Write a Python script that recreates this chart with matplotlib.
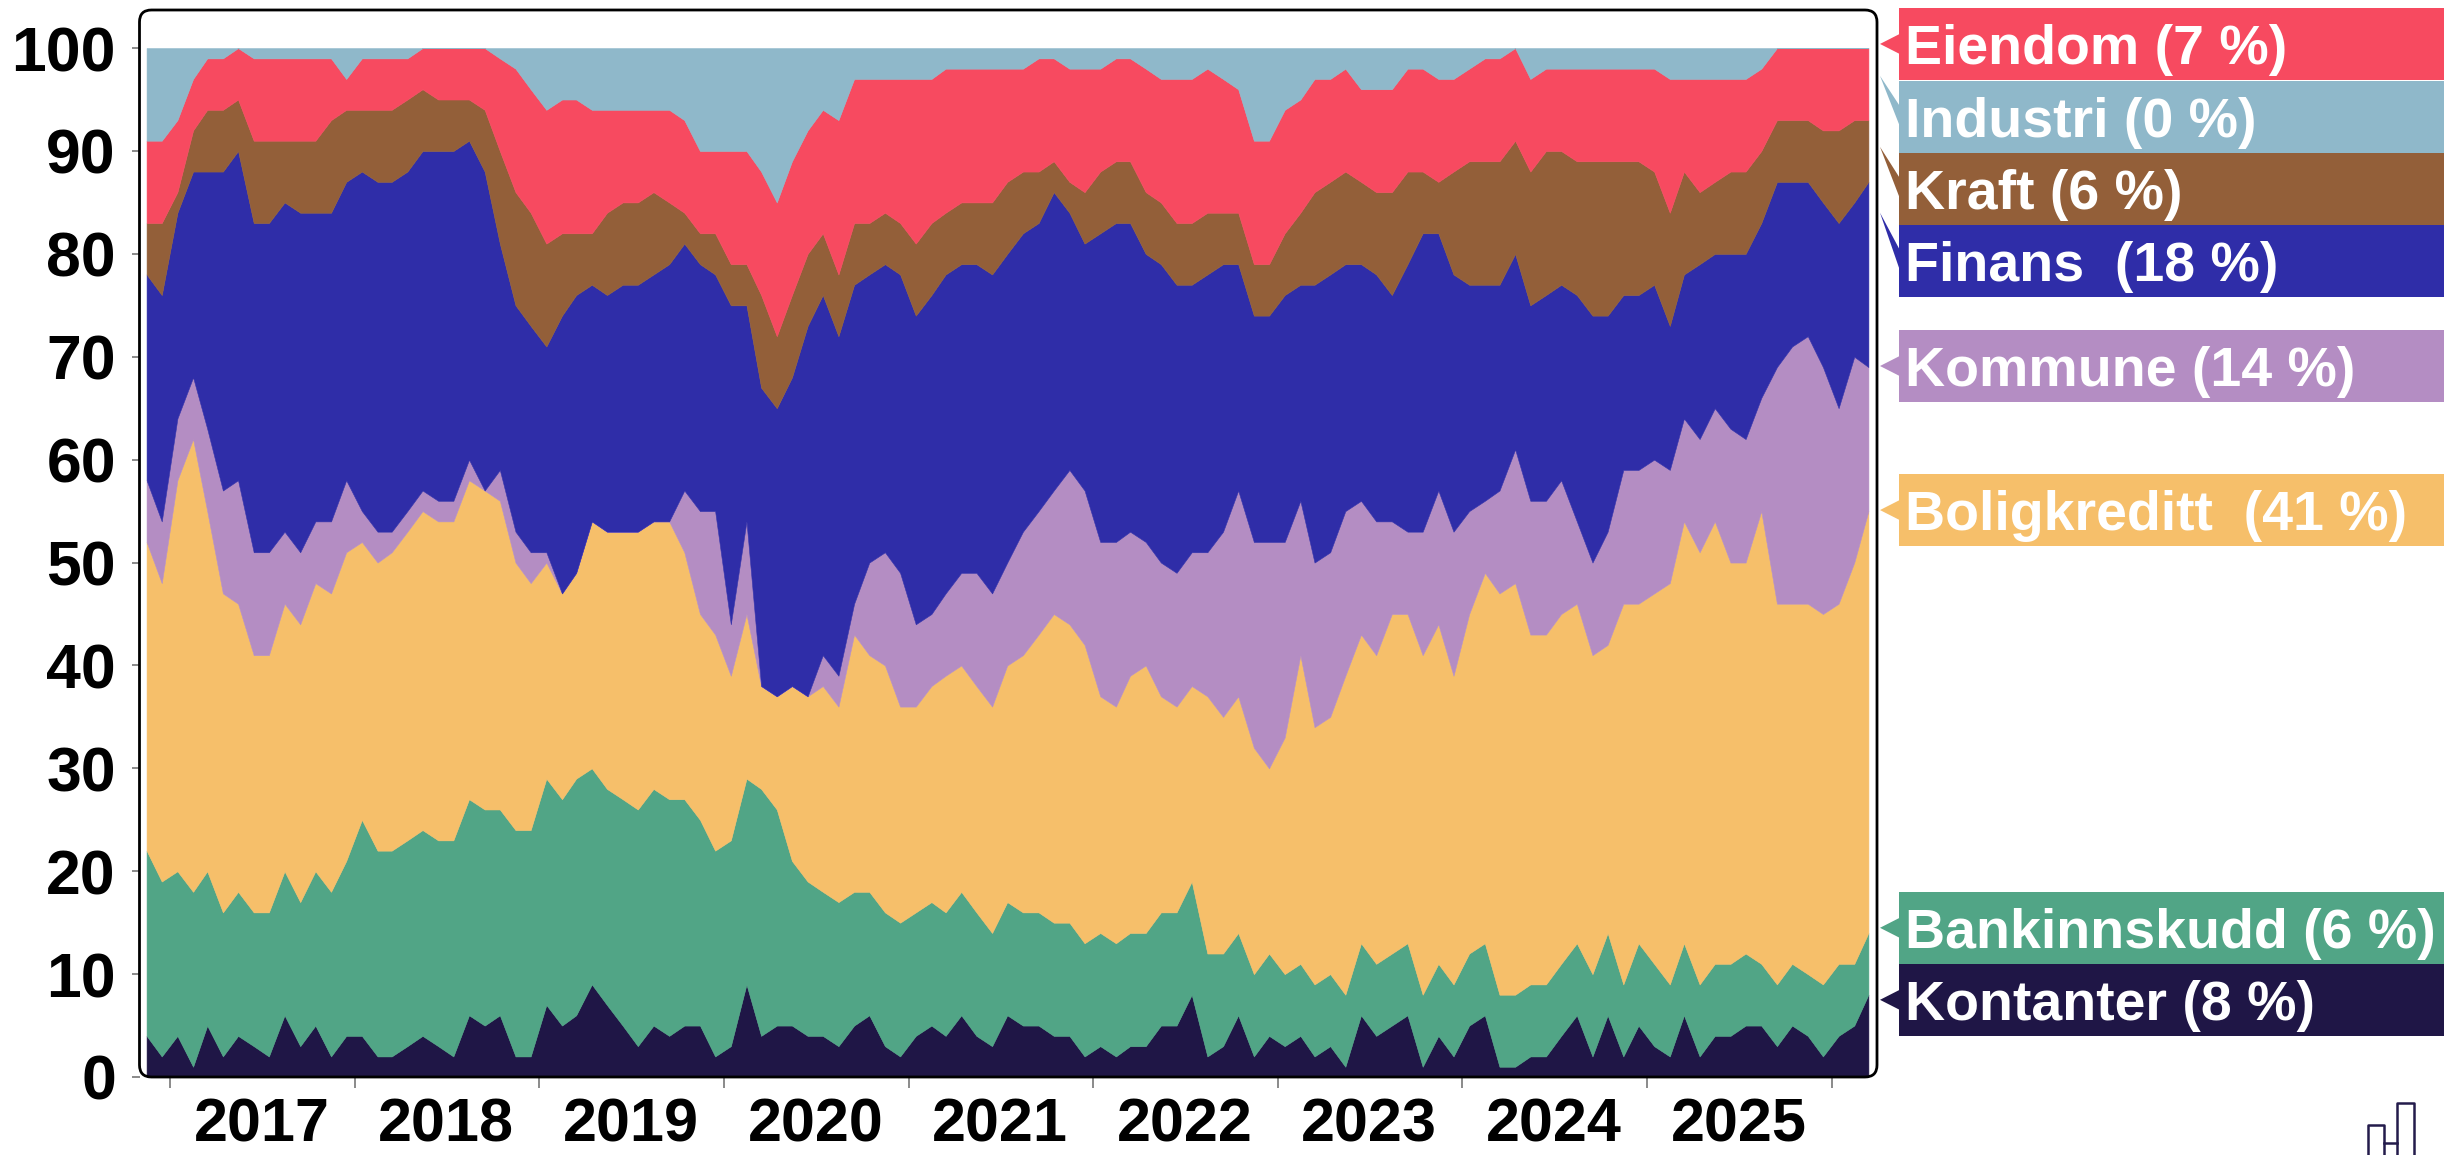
import matplotlib
matplotlib.use('Agg')
import matplotlib.pyplot as plt
import matplotlib.dates as mdates
import matplotlib.transforms as mtransforms
from matplotlib.patches import FancyBboxPatch, Rectangle, Polygon
from matplotlib.ticker import NullFormatter
import pandas as pd

plt.rcParams['font.family'] = ['Liberation Sans', 'DejaVu Sans']
plt.rcParams['font.weight'] = 'bold'

# Monthly observations (mid-month), Nov 2016 - Mar 2026, shares in percent
dates = pd.date_range('2016-11-01', periods=113, freq='MS') + pd.Timedelta(days=14)

kontanter = [4, 2, 4, 1, 5, 2, 4, 3, 2, 6, 3, 5, 2, 4, 4, 2, 2, 3, 4, 3, 2, 6, 5, 6, 2, 2,
             7, 5, 6, 9, 7, 5, 3, 5, 4, 5, 5, 2, 3, 9, 4, 5, 5, 4, 4, 3, 5, 6, 3, 2,
             4, 5, 4, 6, 4, 3, 6, 5, 5, 4, 4, 2, 3, 2, 3, 3, 5, 5, 8, 2, 3, 6, 2, 4, 3, 4,
             2, 3, 1, 6, 4, 5, 6, 1, 4, 2, 5, 6, 1, 1, 2, 2, 4, 6, 2, 6, 2, 5, 3, 2, 6, 2,
             4, 4, 5, 5, 3, 5, 4, 2, 4, 5, 8]
bankinnskudd = [18, 17, 16, 17, 15, 14, 14, 13, 14, 14, 14, 15, 16, 17, 21, 20, 20, 20, 20, 20, 21, 21, 21, 20, 22, 22,
                22, 22, 23, 21, 21, 22, 23, 23, 23, 22, 20, 20, 20, 20, 24, 21, 16, 15, 14, 14, 13, 12, 13, 13,
                12, 12, 12, 12, 12, 11, 11, 11, 11, 11, 11, 11, 11, 11, 11, 11, 11, 11, 11, 10, 9, 8, 8, 8, 7, 7,
                7, 7, 7, 7, 7, 7, 7, 7, 7, 7, 7, 7, 7, 7, 7, 7, 7, 7, 8, 8, 7, 8, 8, 7, 7, 7,
                7, 7, 7, 6, 6, 6, 6, 7, 7, 6, 6]
boligkreditt = [30, 29, 38, 44, 35, 31, 28, 25, 25, 26, 27, 28, 29, 30, 27, 28, 29, 30, 31, 31, 31, 31, 31, 30, 26, 24,
                21, 20, 20, 24, 25, 26, 27, 26, 27, 24, 20, 21, 16, 16, 10, 11, 17, 18, 20, 19, 25, 23, 24, 21,
                20, 21, 23, 22, 22, 22, 23, 25, 27, 30, 29, 29, 23, 23, 25, 26, 21, 20, 19, 25, 23, 23, 22, 18, 23, 30,
                25, 25, 31, 30, 30, 33, 32, 33, 33, 30, 33, 36, 39, 40, 34, 34, 34, 33, 31, 28, 37, 33, 36, 39, 41, 42,
                43, 39, 38, 44, 37, 35, 36, 36, 35, 39, 41]
kommune = [6, 6, 6, 6, 8, 10, 12, 10, 10, 7, 7, 6, 7, 7, 3, 3, 2, 2, 2, 2, 2, 2, 0, 3, 3, 3,
           1, 0, 0, 0, 0, 0, 0, 0, 0, 6, 10, 12, 5, 9, 0, 0, 0, 0, 3, 3, 3, 9, 11, 13,
           8, 7, 8, 9, 11, 11, 10, 12, 12, 12, 15, 15, 15, 16, 14, 12, 13, 13, 13, 14, 18, 20, 20, 22, 19, 15,
           16, 16, 16, 13, 13, 9, 8, 12, 13, 14, 10, 7, 10, 13, 13, 13, 13, 8, 9, 11, 13, 13, 13, 11, 10, 11,
           11, 13, 12, 11, 23, 25, 26, 24, 19, 20, 14]
finans = [20, 22, 20, 20, 25, 31, 32, 32, 32, 32, 33, 30, 30, 29, 33, 34, 34, 33, 33, 34, 34, 31, 31, 22, 22, 22,
          20, 27, 27, 23, 23, 24, 24, 24, 25, 24, 24, 23, 31, 21, 29, 28, 30, 36, 35, 33, 31, 28, 28, 29,
          30, 31, 31, 30, 30, 31, 30, 29, 28, 29, 25, 24, 30, 31, 30, 28, 29, 28, 26, 27, 26, 22, 22, 22, 24, 21,
          27, 27, 24, 23, 24, 22, 26, 29, 25, 25, 22, 21, 20, 19, 19, 20, 19, 22, 24, 21, 17, 17, 17, 14, 14, 17,
          15, 17, 18, 17, 18, 16, 15, 16, 18, 15, 18]
kraft = [5, 7, 2, 4, 6, 6, 5, 8, 8, 6, 7, 7, 9, 7, 6, 7, 7, 7, 6, 5, 5, 4, 6, 9, 11, 11,
         10, 8, 6, 5, 8, 8, 8, 8, 6, 3, 3, 4, 4, 4, 9, 7, 8, 7, 6, 6, 6, 5, 5, 5,
         7, 7, 6, 6, 6, 7, 7, 6, 5, 3, 3, 5, 6, 6, 6, 6, 6, 6, 6, 6, 5, 5, 5, 5, 6, 7,
         9, 9, 9, 8, 8, 10, 9, 6, 5, 10, 12, 12, 12, 11, 13, 14, 13, 13, 15, 15, 13, 13, 11, 11, 10, 7,
         7, 8, 8, 7, 6, 6, 6, 7, 9, 8, 6]
eiendom = [8, 8, 7, 5, 5, 5, 5, 8, 8, 8, 8, 8, 6, 3, 5, 5, 5, 4, 4, 5, 5, 5, 6, 9, 12, 12,
           13, 13, 13, 12, 10, 9, 9, 8, 9, 9, 8, 8, 11, 11, 12, 13, 13, 12, 12, 15, 14, 14, 13, 14,
           16, 14, 14, 13, 13, 13, 11, 10, 11, 10, 11, 12, 10, 10, 10, 12, 12, 14, 14, 14, 13, 12, 12, 12, 12, 11,
           11, 10, 10, 9, 10, 10, 10, 10, 10, 9, 9, 10, 10, 9, 9, 8, 8, 9, 9, 9, 9, 9, 10, 13, 9, 11,
           10, 9, 9, 8, 7, 7, 7, 8, 8, 7, 7]
industri = [9, 9, 7, 3, 1, 1, 0, 1, 1, 1, 1, 1, 1, 3, 1, 1, 1, 1, 0, 0, 0, 0, 0, 1, 2, 4,
            6, 5, 5, 6, 6, 6, 6, 6, 6, 7, 10, 10, 10, 10, 12, 15, 11, 8, 6, 7, 3, 3, 3, 3,
            3, 3, 2, 2, 2, 2, 2, 2, 1, 1, 2, 2, 2, 1, 1, 2, 3, 3, 3, 2, 3, 4, 9, 9, 6, 5,
            3, 3, 2, 4, 4, 4, 2, 2, 3, 3, 2, 1, 1, 0, 3, 2, 2, 2, 2, 2, 2, 2, 2, 3, 3, 3,
            3, 3, 3, 2, 0, 0, 0, 0, 0, 0, 0]

series = [kontanter, bankinnskudd, boligkreditt, kommune, finans, kraft, eiendom, industri]
names = ['Kontanter', 'Bankinnskudd', 'Boligkreditt ', 'Kommune', 'Finans ', 'Kraft', 'Eiendom', 'Industri']
colors = ['#1f1646', '#51a586', '#f6bf6a', '#b48dc3', '#2f2da8', '#935f39', '#f74a60', '#8fb8ca']

# label boxes on the right: box centre and pointer tip (y in data units)
label_y = [7.5, 14.5, 55.1, 69.1, 79.3, 86.3, 100.4, 93.3]
tip_y = [7.5, 14.5, 55.1, 69.1, 84.0, 90.4, 100.4, 97.3]

W, H = 2453, 1155
fig = plt.figure(figsize=(W / 100, H / 100), dpi=100)
ax = fig.add_axes([139.5 / W, 1 - 1077 / H, (1877 - 139.5) / W, (1077 - 10) / H])

polys = ax.stackplot(dates, *series, colors=colors, linewidth=0.4)
for p, c in zip(polys, colors):
    p.set_edgecolor(c)

ax.set_ylim(0, 103.7)
ax.set_xlim(pd.Timestamp('2016-11-01'), pd.Timestamp('2026-04-01'))
for s in ax.spines.values():
    s.set_visible(False)

ax.set_yticks(range(0, 101, 10))
ax.tick_params(axis='y', direction='out', length=6, width=1.2, color='#777777', pad=11, labelsize=45)

ax.xaxis.set_major_locator(mdates.YearLocator())
ax.xaxis.set_major_formatter(NullFormatter())
ax.xaxis.set_minor_locator(mdates.MonthLocator(bymonth=7, bymonthday=1))
ax.xaxis.set_minor_formatter(mdates.DateFormatter('%Y'))
ax.tick_params(axis='x', which='major', direction='out', length=8, width=1.2, color='#777777')
ax.tick_params(axis='x', which='minor', length=0, pad=15, labelsize=44)

# rounded frame
frame = FancyBboxPatch((1.395, 0.78), 17.375, 10.67, boxstyle='round,pad=0,rounding_size=0.12',
                       transform=fig.dpi_scale_trans, facecolor='none', edgecolor='black',
                       linewidth=2, zorder=10)
fig.add_artist(frame)

# labels with pointers
trans = mtransforms.blended_transform_factory(fig.transFigure, ax.transData)
box_x0, box_x1, tip_x, text_x = 1899 / W, 2444 / W, 1880 / W, 1905 / W
for name, vals, c, ly, ty in zip(names, series, colors, label_y, tip_y):
    ax.add_patch(Rectangle((box_x0, ly - 3.5), box_x1 - box_x0, 7.0, transform=trans,
                           facecolor=c, edgecolor='none', clip_on=False))
    ax.add_patch(Polygon([(tip_x, ty), (box_x0 + 0.0005, ly + 1.0), (box_x0 + 0.0005, ly - 1.0)],
                         closed=True, transform=trans, facecolor=c, edgecolor='none', clip_on=False))
    ax.annotate(f'{name} ({vals[-1]} %)', xy=(text_x, ly), xycoords=trans,
                xytext=(0, -14.6), textcoords='offset points', va='baseline', ha='left',
                color='white', fontsize=40, fontweight='bold', annotation_clip=False)

# small logo, bottom right
logo_c = '#231b4b'
fig.add_artist(plt.Line2D([23.68, 23.68, 23.84, 23.84], [-0.05, 0.30, 0.30, -0.05],
                          transform=fig.dpi_scale_trans, color=logo_c, lw=1.8))
fig.add_artist(plt.Line2D([23.97, 23.97, 24.14, 24.14], [-0.05, 0.52, 0.52, -0.05],
                          transform=fig.dpi_scale_trans, color=logo_c, lw=1.8))
fig.add_artist(plt.Line2D([23.84, 23.97], [0.12, 0.12],
                          transform=fig.dpi_scale_trans, color=logo_c, lw=1.8))

fig.savefig('out.png', dpi=100)
